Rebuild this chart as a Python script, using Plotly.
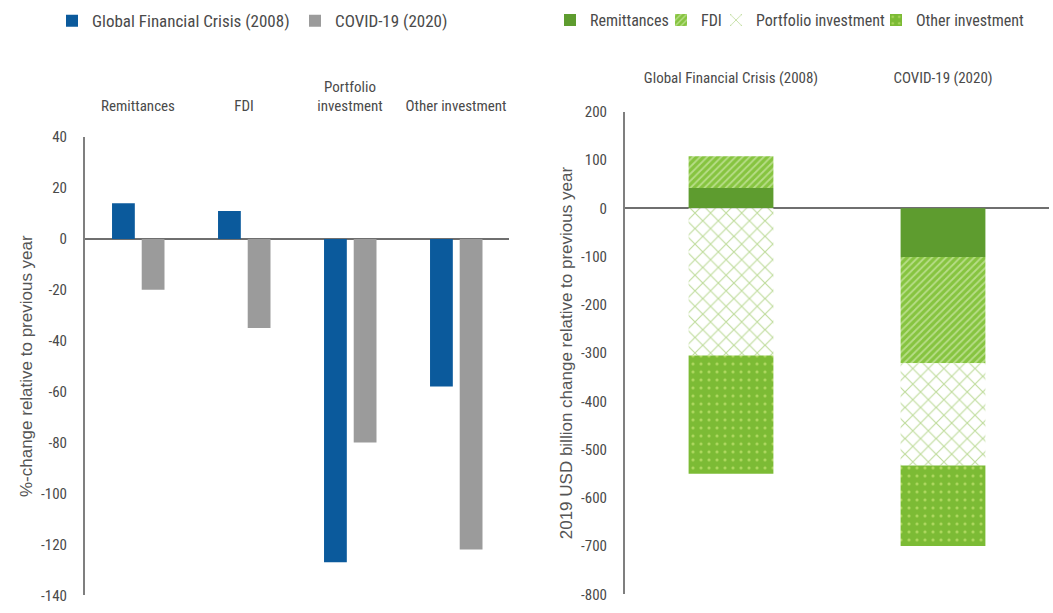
import plotly.graph_objects as go

# ---------------- data ----------------
left_categories = ["Remittances", "FDI", "Portfolio<br>investment", "Other investment"]
gfc_pct = [14, 11, -127, -58]
covid_pct = [-20, -35, -80, -122]

right_categories = ["Global Financial Crisis (2008)", "COVID-19 (2020)"]
remittances_usd = [42, -101]
fdi_usd = [66, -220]
portfolio_usd = [-305, -212]
other_usd = [-245, -167]

left_ticks = [40, 20, 0, -20, -40, -60, -80, -100, -120, -140]
right_ticks = [200, 100, 0, -100, -200, -300, -400, -500, -600, -700, -800]

# ---------------- styling ----------------
FONT = "Liberation Sans Narrow, Arial Narrow, Roboto Condensed, Liberation Sans, Arial, sans-serif"
TITLE_FONT = "Liberation Sans, Arial, sans-serif"
TXT = "#4a4a4a"
W, H = 1053, 613

fig = go.Figure()

# left chart: grouped bars via explicit offsets
fig.add_trace(go.Bar(x=left_categories, y=gfc_pct, name="Global Financial Crisis (2008)",
                     marker=dict(color="#0b5a9c", line=dict(width=0)),
                     offset=-0.245, width=0.215, xaxis="x", yaxis="y", legend="legend"))
fig.add_trace(go.Bar(x=left_categories, y=covid_pct, name="COVID-19 (2020)",
                     marker=dict(color="#9b9b9b", line=dict(width=0)),
                     offset=0.035, width=0.215, xaxis="x", yaxis="y", legend="legend2"))

# right chart: stacked bars (bases computed from the values)
series = [
    ("Remittances", remittances_usd, dict(color="#5e9c2f", line=dict(width=0)), "legend3"),
    ("FDI", fdi_usd, dict(color="#86c440", line=dict(width=0),
                          pattern=dict(shape="/", bgcolor="#86c440", fgcolor="#e8f6cf",
                                       size=5, solidity=0.35)), "legend4"),
    ("Portfolio investment", portfolio_usd, dict(color="#8cc63f", line=dict(width=0),
                          pattern=dict(shape="x", bgcolor="#ffffff", fgcolor="#7fb83a",
                                       size=11, solidity=0.2, fillmode="overlay")), "legend5"),
    ("Other investment", other_usd, dict(color="#7cbb35", line=dict(width=0),
                          pattern=dict(shape=".", bgcolor="#7cbb35", fgcolor="#dff58c",
                                       size=8, solidity=0.12)), "legend6"),
]
pos = [0.0] * len(right_categories)
neg = [0.0] * len(right_categories)
for name, vals, marker, lg in series:
    base = []
    for i, v in enumerate(vals):
        if v >= 0:
            base.append(pos[i]); pos[i] += v
        else:
            base.append(neg[i]); neg[i] += v
    fig.add_trace(go.Bar(x=right_categories, y=vals, base=base, name=name, marker=marker,
                         offset=-0.2, width=0.4, xaxis="x2", yaxis="y2", legend=lg))

axis_font = dict(family=FONT, size=15, color=TXT)
title_font = dict(family=TITLE_FONT, size=17, color="#555555")

fig.update_layout(
    width=W, height=H,
    margin=dict(l=0, r=0, t=0, b=0),
    paper_bgcolor="white", plot_bgcolor="white",
    barmode="overlay",
    font=dict(family=FONT, size=15, color=TXT),
    xaxis=dict(domain=[85 / W, 509 / W], anchor="y", side="top", type="category",
               showline=False, showgrid=False, ticks="", tickfont=axis_font,
               ticklabelstandoff=22),
    yaxis=dict(domain=[1 - 604 / H, 1 - 132 / H], anchor="x", range=[-140, 40],
               tickvals=left_ticks, ticktext=[str(v) for v in left_ticks],
               showgrid=False, showline=True, linecolor="#7f7f7f", linewidth=2,
               zeroline=True, zerolinecolor="#6f6f6f", zerolinewidth=2,
               ticks="", ticklabelstandoff=13, tickfont=axis_font,
               title=dict(text="%-change relative to previous year", font=title_font, standoff=4)),
    xaxis2=dict(domain=[625 / W, 1049 / W], anchor="y2", side="top", type="category",
                showline=False, showgrid=False, ticks="", tickfont=axis_font,
                ticklabelstandoff=25),
    yaxis2=dict(domain=[1 - 603 / H, 1 - 106 / H], anchor="x2", range=[-800, 200],
                tickvals=right_ticks, ticktext=[str(v) for v in right_ticks],
                showgrid=False, showline=True, linecolor="#7f7f7f", linewidth=2,
                zeroline=True, zerolinecolor="#6f6f6f", zerolinewidth=2,
                ticks="", ticklabelstandoff=13, tickfont=axis_font,
                title=dict(text="2019 USD billion change relative to previous year",
                           font=title_font, standoff=4)),
    showlegend=True,
)

def leg(text_x, size=16):
    # text starts ~40 px right of the legend's left edge
    return dict(x=(text_x - 42) / W, xanchor="left", y=1 + 6 / H, yanchor="top",
                orientation="h", bgcolor="rgba(0,0,0,0)", itemwidth=30,
                font=dict(family=FONT, size=size, color=TXT))

fig.update_layout(
    legend=leg(94, 17), legend2=leg(337, 17), legend3=leg(592), legend4=leg(703),
    legend5=leg(758), legend6=leg(918),
)

fig.write_html("out.html")
